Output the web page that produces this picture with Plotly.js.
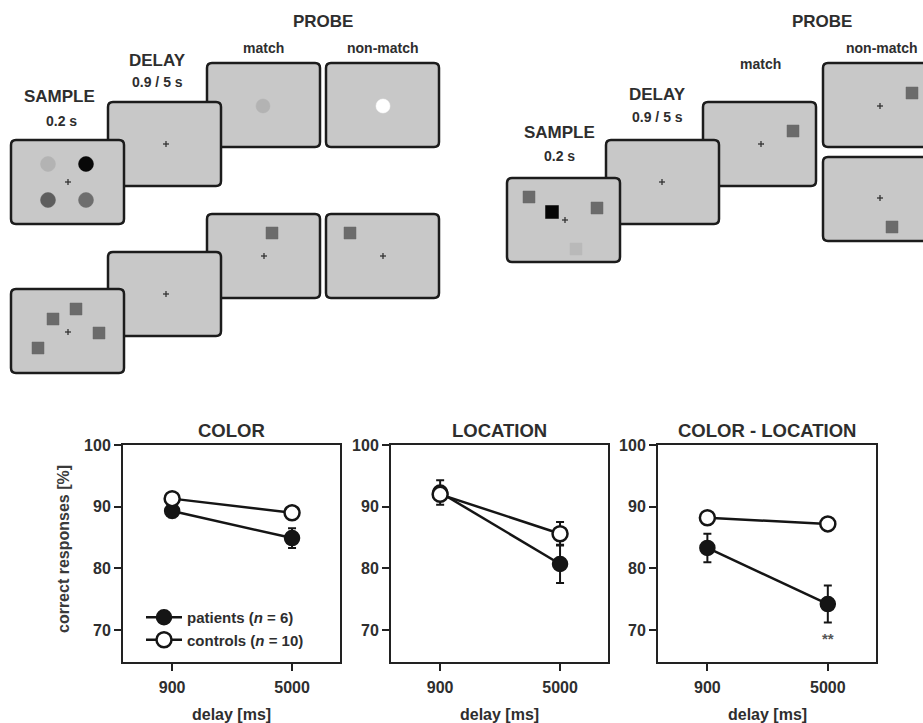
<!DOCTYPE html>
<html>
<head>
<meta charset="utf-8">
<script src="https://cdn.plot.ly/plotly-3.0.1.min.js"></script>
<style>html,body{margin:0;padding:0;background:#fff}</style>
</head>
<body>
<div id="chart" style="width:923px;height:723px"></div>
<script>
// Delay conditions (x axis categories)
const delays = ['900', '5000'];

// Mean correct responses [%] and their error (SEM) per task and group
const colorPatients = [89.3, 84.9];
const colorPatientsErr = [1.0, 1.6];
const colorControls = [91.3, 89.0];
const colorControlsErr = [0.5, 0.5];

const locationPatients = [92.3, 80.7];
const locationPatientsErr = [2.0, 3.1];
const locationControls = [92.0, 85.6];
const locationControlsErr = [1.0, 1.9];

const colorLocPatients = [83.3, 74.2];
const colorLocPatientsErr = [2.3, 3.0];
const colorLocControls = [88.2, 87.2];
const colorLocControlsErr = [0.5, 0.5];

const yTickVals = [70, 80, 90, 100];
const panelTitles = ['COLOR', 'LOCATION', 'COLOR - LOCATION'];
const groupNames = ['patients (<i>n</i> = 6)', 'controls (<i>n</i> = 10)'];
const significance = '**';
const significantDelay = '5000';

// ---------------------------------------------------------------
const W = 923, H = 723;
const FONT = 'Liberation Sans, Arial, sans-serif';
const INK = '#222';
const TXT = '#2e2e2e';
const px = v => v / W;
const py = v => 1 - v / H;

const panels = [
  {p: colorPatients, pe: colorPatientsErr, c: colorControls, ce: colorControlsErr, dom: [123, 340]},
  {p: locationPatients, pe: locationPatientsErr, c: locationControls, ce: locationControlsErr, dom: [391, 608]},
  {p: colorLocPatients, pe: colorLocPatientsErr, c: colorLocControls, ce: colorLocControlsErr, dom: [658, 876]}
];
const plotTop = 445, plotBottom = 662;

const traces = [];
const layout = {
  width: W, height: H,
  margin: {l: 0, r: 0, t: 0, b: 0},
  paper_bgcolor: '#fff', plot_bgcolor: '#fff',
  font: {family: FONT, color: TXT},
  showlegend: true,
  legend: {
    x: px(141), y: py(601), xanchor: 'left', yanchor: 'top',
    bgcolor: 'rgba(0,0,0,0)', borderwidth: 0,
    font: {family: FONT, size: 15, color: TXT, weight: 'bold'},
    itemwidth: 36, tracegroupgap: 0
  },
  shapes: [], annotations: []
};

const tickFont = {family: FONT, size: 16, color: TXT, weight: 'bold'};

panels.forEach((pn, i) => {
  const k = i === 0 ? '' : String(i + 1);
  const xa = 'x' + k, ya = 'y' + k;
  traces.push({
    x: delays, y: pn.p, xaxis: xa, yaxis: ya,
    type: 'scatter', mode: 'lines+markers',
    name: groupNames[0], showlegend: i === 0, legendrank: 1,
    line: {color: '#151515', width: 2.5},
    marker: {size: 15, color: '#151515', line: {color: '#151515', width: 1.5}},
    error_y: {type: 'data', array: pn.pe, visible: true, color: '#151515', thickness: 2, width: 4}
  });
  traces.push({
    x: delays, y: pn.c, xaxis: xa, yaxis: ya,
    type: 'scatter', mode: 'lines+markers',
    name: groupNames[1], showlegend: i === 0, legendrank: 2,
    line: {color: '#151515', width: 2.5},
    marker: {size: 15, color: '#fff', line: {color: '#151515', width: 2.5}},
    error_y: {type: 'data', array: pn.ce, visible: true, color: '#151515', thickness: 2, width: 4}
  });

  layout['xaxis' + k] = {
    domain: [px(pn.dom[0]), px(pn.dom[1])], anchor: ya,
    type: 'category', range: [-0.41, 1.4],
    showline: true, mirror: true, linecolor: INK, linewidth: 2,
    ticks: 'outside', ticklen: 7, tickwidth: 2, tickcolor: INK,
    ticklabelstandoff: 3,
    showgrid: false, zeroline: false, fixedrange: true,
    tickfont: tickFont
  };
  layout['yaxis' + k] = {
    domain: [py(plotBottom), py(plotTop)], anchor: xa,
    range: [64.8, 100], tickvals: yTickVals,
    showline: true, mirror: true, linecolor: INK, linewidth: 2,
    ticks: 'outside', ticklen: 7, tickwidth: 2, tickcolor: INK,
    showgrid: false, zeroline: false, fixedrange: true,
    tickfont: tickFont
  };

  // panel title
  layout.annotations.push({
    xref: 'paper', yref: 'paper', x: px((pn.dom[0] + pn.dom[1]) / 2), y: py(430),
    text: panelTitles[i], showarrow: false, xanchor: 'center', yanchor: 'middle',
    font: {family: FONT, size: 18.5, color: TXT, weight: 'bold'}
  });
  // x axis title
  layout.annotations.push({
    xref: 'paper', yref: 'paper', x: px((pn.dom[0] + pn.dom[1]) / 2), y: py(714),
    text: 'delay [ms]', showarrow: false, xanchor: 'center', yanchor: 'middle',
    font: {family: FONT, size: 16, color: TXT, weight: 'bold'}
  });
});

// y axis title of the first panel
layout.annotations.push({
  xref: 'paper', yref: 'paper', x: px(63), y: py(549),
  text: 'correct responses [%]', showarrow: false, textangle: -90,
  xanchor: 'center', yanchor: 'middle',
  font: {family: FONT, size: 16, color: '#3a3a3a', weight: 'bold'}
});

// significance marker under the patients' long-delay point
// (category axes place annotations by category index)
layout.annotations.push({
  xref: 'x3', yref: 'y3', x: delays.indexOf(significantDelay), y: 68.6,
  text: significance, showarrow: false, xanchor: 'center', yanchor: 'middle',
  font: {family: FONT, size: 15, color: '#555', weight: 'bold'}
});

// ---------------------------------------------------------------
// Trial schematics: sample, delay and probe screens
const screenFill = '#c8c8c8';
function screen(x, y, w, h) {
  const r = 5;
  const pts = [
    ['M', x + r, y], ['L', x + w - r, y], ['Q', x + w, y, x + w, y + r],
    ['L', x + w, y + h - r], ['Q', x + w, y + h, x + w - r, y + h],
    ['L', x + r, y + h], ['Q', x, y + h, x, y + h - r],
    ['L', x, y + r], ['Q', x, y, x + r, y]
  ];
  const d = pts.map(p => {
    const c = [];
    for (let j = 1; j < p.length; j += 2) c.push(px(p[j]) + ',' + py(p[j + 1]));
    return p[0] + c.join(' ');
  }).join(' ') + ' Z';
  layout.shapes.push({type: 'path', xref: 'paper', yref: 'paper', path: d,
    fillcolor: screenFill, line: {color: '#1c1c1c', width: 2.5}, layer: 'above'});
}
function dot(cx, cy, r, color) {
  layout.shapes.push({type: 'circle', xref: 'paper', yref: 'paper',
    x0: px(cx - r), x1: px(cx + r), y0: py(cy + r), y1: py(cy - r),
    fillcolor: color, line: {color: color, width: 0.5}, layer: 'above'});
}
function square(cx, cy, s, color) {
  layout.shapes.push({type: 'rect', xref: 'paper', yref: 'paper',
    x0: px(cx - s / 2), x1: px(cx + s / 2), y0: py(cy + s / 2), y1: py(cy - s / 2),
    fillcolor: color, line: {color: color, width: 0.5}, layer: 'above'});
}
function cross(cx, cy) {
  const a = 3;
  layout.shapes.push({type: 'line', xref: 'paper', yref: 'paper',
    x0: px(cx - a), x1: px(cx + a), y0: py(cy), y1: py(cy), line: {color: '#333', width: 1.3}, layer: 'above'});
  layout.shapes.push({type: 'line', xref: 'paper', yref: 'paper',
    x0: px(cx), x1: px(cx), y0: py(cy - a), y1: py(cy + a), line: {color: '#333', width: 1.3}, layer: 'above'});
}
function label(text, x, y, size) {
  layout.annotations.push({xref: 'paper', yref: 'paper', x: px(x), y: py(y), text: text,
    showarrow: false, xanchor: 'center', yanchor: 'middle',
    font: {family: FONT, size: size, color: TXT, weight: 'bold'}});
}

const SW = 113, SH = 84;
const grayDot = '#b3b3b3', darkSq = '#6b6b6b';

// colour task (upper left)
screen(207, 63, SW, SH); dot(263, 106, 7, grayDot);
screen(326, 63, SW, SH); dot(383, 106, 7, '#ffffff');
screen(108, 102, SW, SH); cross(166, 144);
screen(11, 140, SW, SH);
dot(48, 164, 7.5, grayDot); dot(86, 164, 7.5, '#080808');
dot(48, 200, 7.5, '#5e5e5e'); dot(86, 200, 7.5, '#6e6e6e');
cross(68, 182);

// location task (lower left)
screen(207, 214, SW, SH); square(272, 233, 12, darkSq); cross(264, 256);
screen(326, 214, SW, SH); square(350, 233, 12, darkSq); cross(383, 256);
screen(108, 252, SW, SH); cross(166, 294);
screen(11, 289, SW, SH);
square(53, 319, 12, darkSq); square(76, 309, 12, darkSq);
square(99, 333, 12, darkSq); square(38, 348, 12, darkSq);
cross(68, 332);

// colour-location task (upper right)
screen(823, 63, SW, SH); square(912, 93, 12, darkSq); cross(880, 106);
screen(823, 157, SW, SH); square(892, 227, 12, darkSq); cross(880, 198);
screen(703, 102, SW, SH); square(793, 131, 12, darkSq); cross(761, 144);
screen(606, 140, SW, SH); cross(662, 182);
screen(507, 178, SW, SH);
square(529, 197, 12, darkSq); square(552, 212, 13, '#050505');
square(597, 208, 12, darkSq); square(576, 249, 12, '#b9b9b9');
cross(565, 220);

// phase labels
label('PROBE', 323, 21, 17); label('match', 263, 48, 14); label('non-match', 383, 48, 14);
label('DELAY', 157, 60, 17); label('0.9 / 5 s', 157, 82, 14);
label('SAMPLE', 59, 97, 17); label('0.2 s', 61, 121, 14);

label('PROBE', 822, 21, 17); label('non-match', 882, 48, 14); label('match', 760, 64, 14);
label('DELAY', 657, 95, 17); label('0.9 / 5 s', 657, 117, 14);
label('SAMPLE', 559, 132, 17); label('0.2 s', 559, 156, 14);

Plotly.newPlot('chart', traces, layout, {displayModeBar: false, staticPlot: true});
</script>
</body>
</html>
